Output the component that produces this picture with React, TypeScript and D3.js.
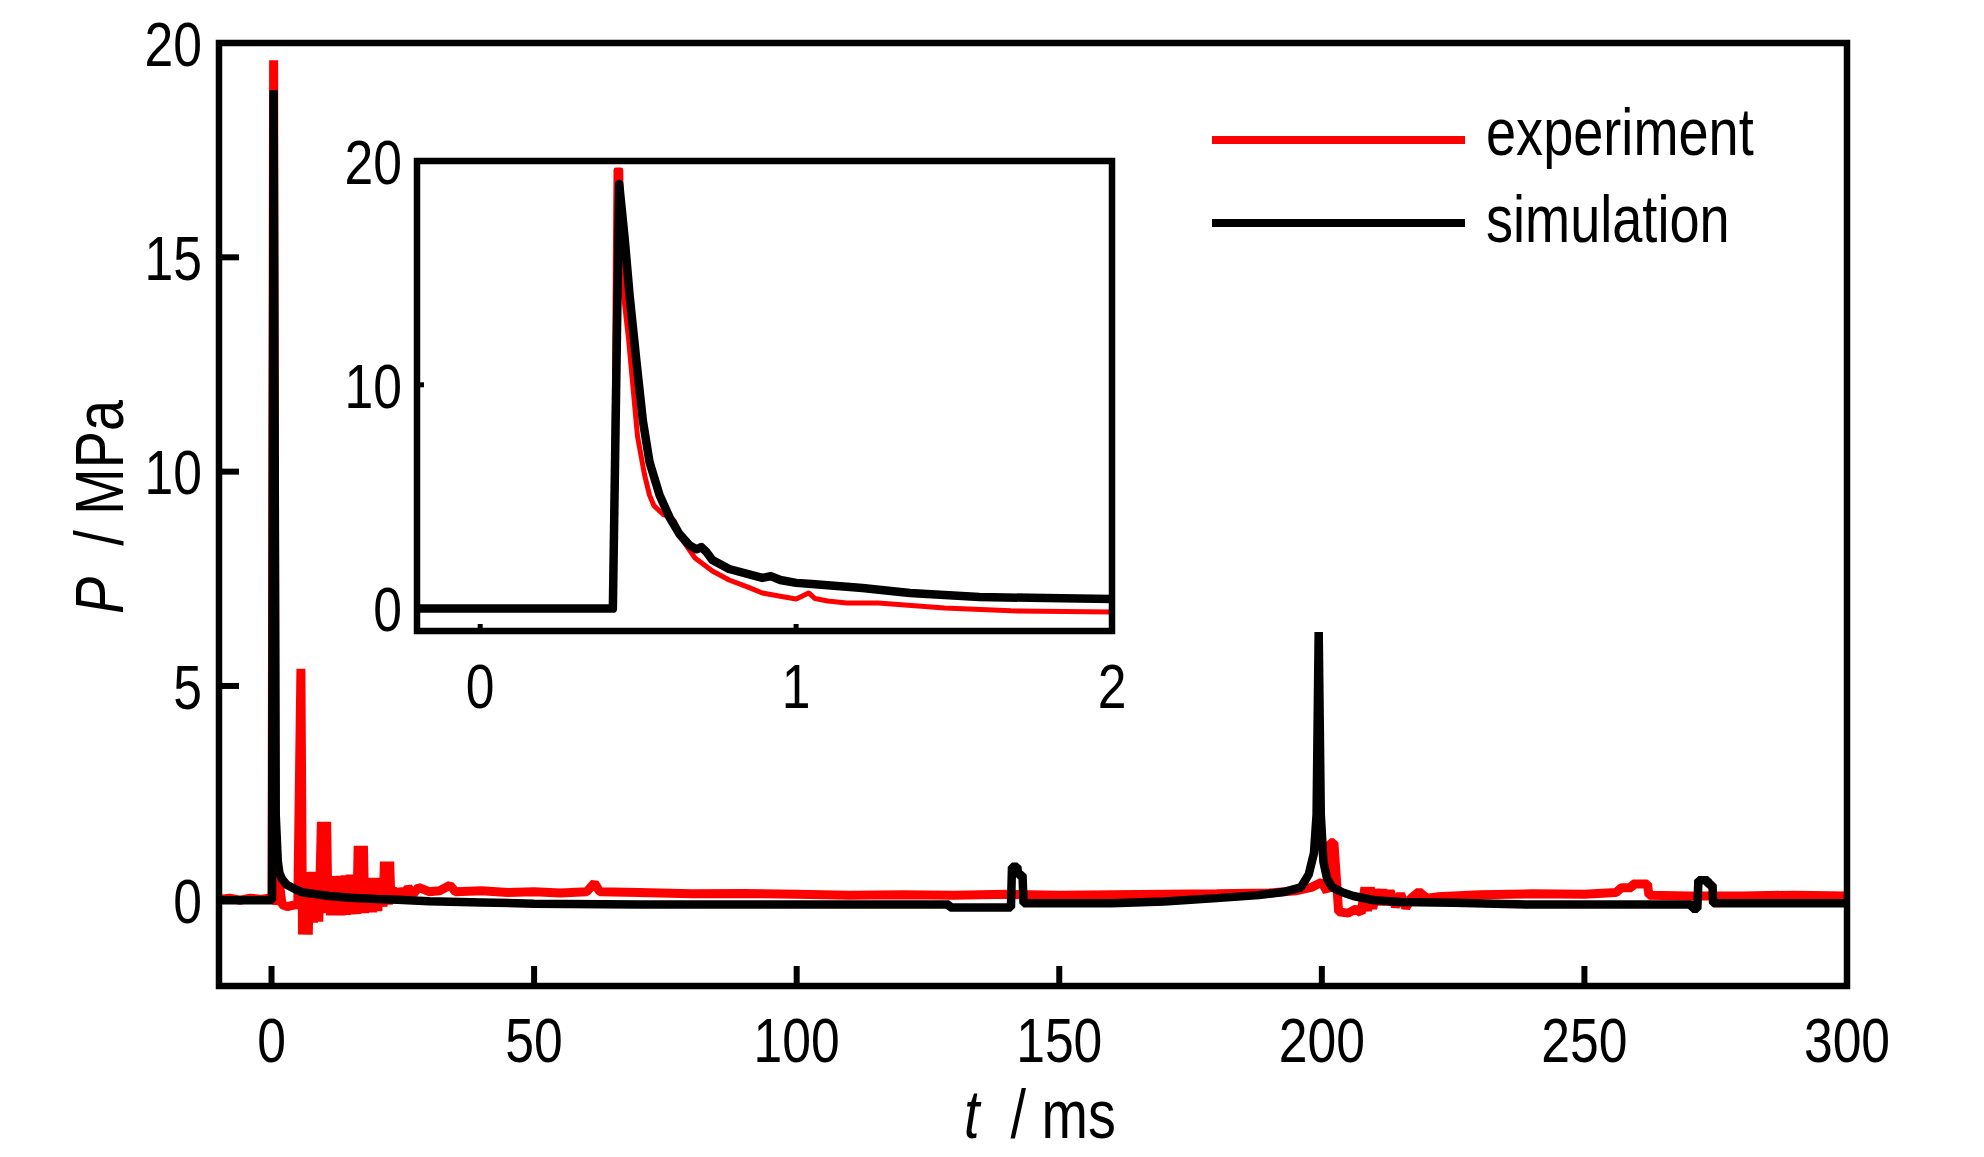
import * as d3 from "d3";

// main chart, t in ms, P in MPa
const mainExperiment: [number, number][] = [
  [-10, 0.02], [-8, 0.05], [-6, 0.0], [-4, 0.05], [-2, 0.02], [-0.5, 0.05], [0.1, 0.1],
  [0.4, 19.6], [0.7, 0.3], [1.0, -0.1], [1.5, 0.4], [2.0, -0.1], [3, -0.15], [4, -0.12], [5, -0.1],
  [5.6, 5.4], [5.9, -0.8], [6.2, -0.1], [6.5, -0.8], [6.8, -0.2], [7.0, -0.8], [7.25, 0.66], [7.5, -0.52],
  [7.75, 0.66], [8.0, -0.52], [8.25, 0.66], [8.5, -0.5], [8.75, 0.66], [9.0, -0.5], [9.25, 0.6],
  [9.5, 1.83], [9.75, -0.3], [10.0, 1.83], [10.25, -0.3], [10.5, 1.83], [10.75, -0.3], [11.0, 0.55],
  [11.25, -0.35], [11.5, 0.55], [11.75, -0.35], [12.0, 0.56], [12.25, -0.35], [12.5, 0.56], [12.75, -0.35],
  [13.0, 0.57], [13.25, -0.35], [13.5, 0.57], [13.75, -0.34], [14.0, 0.58], [14.25, -0.34], [14.5, 0.58],
  [14.75, -0.33], [15.0, 0.6], [15.25, -0.33], [15.5, 0.6], [15.75, -0.32], [16.0, 0.6], [16.25, -0.32],
  [16.5, 1.27], [16.75, -0.3], [17.0, 1.27], [17.25, -0.3], [17.5, 1.27], [17.75, -0.3], [18.0, 0.5],
  [18.25, -0.28], [18.5, 0.5], [18.75, -0.28], [19.0, 0.52], [19.25, -0.28], [19.5, 0.52], [19.75, -0.25],
  [20.0, 0.52], [20.25, -0.25], [20.5, 0.52], [20.75, -0.15], [21.0, 0.5], [21.25, -0.15], [21.5, 0.9],
  [21.75, -0.1], [22.0, 0.9], [22.25, -0.1], [22.5, 0.9], [22.75, -0.05], [23.0, 0.3], [23.25, -0.05],
  [23.5, 0.28], [23.75, 0.0], [24.0, 0.28], [24.25, 0.0], [24.5, 0.28], [25.0, 0.05], [26, 0.3],
  [27, 0.15], [28, 0.3], [30, 0.2], [32, 0.22], [34, 0.35], [35, 0.2], [40, 0.22], [45, 0.18],
  [50, 0.2], [55, 0.17], [60, 0.2], [61.5, 0.4], [62.5, 0.2], [70, 0.18], [80, 0.15], [90, 0.16],
  [100, 0.14], [110, 0.12], [120, 0.13], [130, 0.12], [140, 0.14], [150, 0.12], [160, 0.13],
  [170, 0.14], [180, 0.15], [190, 0.17], [195, 0.22], [198, 0.3], [200, 0.42], [201, 0.2],
  [201.6, 1.34], [202.3, 1.34], [203.2, -0.27], [205, -0.3], [206.5, -0.2], [207.5, -0.3],
  [208.2, 0.3], [208.7, -0.25], [209.2, 0.3], [209.7, -0.2], [210.3, 0.25], [211, -0.1], [211.6, 0.25],
  [212.2, -0.1], [213, 0.22], [214, -0.15], [215, 0.15], [216, -0.18], [217, 0.05], [218.5, 0.2],
  [220, 0.05], [222, 0.08], [225, 0.1], [230, 0.13], [240, 0.15], [250, 0.14], [256, 0.18],
  [257, 0.29], [259, 0.29], [259.2, 0.38], [262, 0.38], [262.3, 0.12], [270, 0.1], [280, 0.1],
  [290, 0.12], [300, 0.1],
];

const mainSimulation: [number, number][] = [
  [-10, 0], [-0.5, 0], [0.1, 0], [0.4, 18.9], [0.8, 2.0], [1.2, 0.9], [1.5, 0.64], [2, 0.5],
  [2.9, 0.36], [4.8, 0.24], [6, 0.18], [8, 0.15], [11, 0.1], [15, 0.06], [20, 0.03], [24, 0.01],
  [30, -0.02], [40, -0.05], [50, -0.08], [70, -0.1], [100, -0.1], [129, -0.1], [129.2, -0.17],
  [140.8, -0.17], [141, 0.78], [142, 0.78], [142.2, 0.59], [143, 0.59], [143.2, -0.07], [160, -0.07],
  [170, -0.03], [180, 0.05], [188, 0.12], [193, 0.2], [196, 0.3], [197.5, 0.6], [198.5, 1.1],
  [199.0, 2.0], [199.4, 6.26], [199.8, 2.0], [200.3, 0.9], [201, 0.5], [202, 0.3], [204, 0.18],
  [206, 0.1], [210, 0.0], [215, -0.04], [225, -0.06], [240, -0.1], [270.5, -0.1], [270.6, -0.2],
  [271.5, -0.2], [271.7, 0.47], [273.5, 0.47], [273.6, 0.36], [274.4, 0.36], [274.5, -0.07], [300, -0.07],
];

// inset, zoom on the first 2 ms
const insetExperiment: [number, number][] = [
  [-0.2, 0], [0.42, 0], [0.43, 19.6], [0.445, 19.6], [0.45, 14.5], [0.47, 12.0], [0.498, 7.7],
  [0.52, 6.0], [0.536, 5.07], [0.55, 4.6], [0.58, 4.2], [0.6, 4.1], [0.615, 3.9], [0.64, 3.07],
  [0.68, 2.26], [0.735, 1.68], [0.788, 1.28], [0.85, 0.95], [0.893, 0.7], [0.95, 0.55], [1.0, 0.43],
  [1.04, 0.7], [1.06, 0.45], [1.1, 0.34], [1.16, 0.25], [1.26, 0.25], [1.47, 0.03], [1.68, -0.1],
  [2.0, -0.15],
];

const insetSimulation: [number, number][] = [
  [-0.2, 0], [0.42, 0], [0.44, 18.97], [0.457, 16.6], [0.473, 14.0], [0.495, 11.0], [0.515, 8.4],
  [0.536, 6.55], [0.568, 5.07], [0.599, 4.09], [0.631, 3.33], [0.662, 2.84], [0.685, 2.65],
  [0.7, 2.75], [0.715, 2.55], [0.735, 2.17], [0.788, 1.77], [0.893, 1.37], [0.92, 1.45], [0.95, 1.28],
  [1.0, 1.15], [1.05, 1.1], [1.21, 0.92], [1.36, 0.7], [1.58, 0.52], [1.79, 0.47], [2.0, 0.43],
];

const mainXTicks = [0, 50, 100, 150, 200, 250, 300];
const mainYTicks = [0, 5, 10, 15, 20];
const insetXTicks = [0, 1, 2];
const insetYTicks = [0, 10, 20];
const seriesNames = ["experiment", "simulation"];

const FONT = "'Liberation Sans', Arial, sans-serif";
const NARROW = 0.82;

// narrow text: Arial squeezed horizontally like Arial Narrow
const NText = ({ x, y, size, anchor = "start", rotate = 0, dy, children }: any) => (
  <text
    transform={`translate(${x},${y}) rotate(${rotate}) scale(${NARROW},1)`}
    textAnchor={anchor}
    fontSize={size}
    dy={dy}
  >
    {children}
  </text>
);

const App = () => {
  const W = 1984, H = 1157;

  const x = d3.scaleLinear().domain([-10, 300]).range([219, 1847]);
  const y = d3.scaleLinear().domain([-2, 20]).range([986, 43]);
  const ix = d3.scaleLinear().domain([-0.2, 2]).range([417, 1112]);
  const iy = d3.scaleLinear().domain([-1, 20]).range([631, 161]);

  const mainLine = d3.line<[number, number]>().x(d => x(d[0])).y(d => y(d[1]));
  const insetLine = d3.line<[number, number]>().x(d => ix(d[0])).y(d => iy(d[1]));

  return (
    <svg width={W} height={H} style={{ position: "absolute", left: 0, top: 0, background: "#fff" }}
      fontFamily={FONT}>
      <defs>
        <clipPath id="mainClip">
          <rect x={219} y={43} width={1847 - 219} height={986 - 43} />
        </clipPath>
        <clipPath id="insetClip">
          <rect x={417} y={161} width={1112 - 417} height={631 - 161} />
        </clipPath>
      </defs>
      <rect width={W} height={H} fill="#fff" />

      {/* main plot */}
      <g clipPath="url(#mainClip)">
        <path d={mainLine(mainExperiment) ?? ""} fill="none" stroke="#ff0000" strokeWidth={9} strokeLinejoin="bevel" />
        <path d={mainLine(mainSimulation) ?? ""} fill="none" stroke="#000" strokeWidth={8.5} strokeLinejoin="bevel" />
      </g>
      {mainXTicks.map(t => (
        <g key={"mx" + t}>
          <line x1={x(t)} x2={x(t)} y1={986} y2={966} stroke="#000" strokeWidth={6} />
          <NText x={x(t)} y={1062} size={63} anchor="middle">{t}</NText>
        </g>
      ))}
      {mainYTicks.map(v => (
        <g key={"my" + v}>
          <line x1={219} x2={239} y1={y(v)} y2={y(v)} stroke="#000" strokeWidth={6} />
          <NText x={202} y={y(v)} dy="0.36em" size={63} anchor="end">{v}</NText>
        </g>
      ))}
      <rect x={219} y={43} width={1847 - 219} height={986 - 43} fill="none" stroke="#000" strokeWidth={6.5} />

      <NText x={1040} y={1138} size={68} anchor="middle">
        <tspan fontStyle="italic">t</tspan>
        <tspan>{"\u00a0\u00a0/ ms"}</tspan>
      </NText>
      <NText x={123} y={507} size={68} anchor="middle" rotate={-90}>
        <tspan fontStyle="italic">P</tspan>
        <tspan>{"\u00a0\u00a0/ MPa"}</tspan>
      </NText>

      {/* legend */}
      <line x1={1212} x2={1465} y1={140} y2={140} stroke="#ff0000" strokeWidth={8} />
      <line x1={1212} x2={1465} y1={223} y2={223} stroke="#000" strokeWidth={8} />
      <NText x={1486} y={155} size={66}>{seriesNames[0]}</NText>
      <NText x={1486} y={242} size={66}>{seriesNames[1]}</NText>

      {/* inset */}
      <rect x={417} y={161} width={1112 - 417} height={631 - 161} fill="#fff" />
      <g clipPath="url(#insetClip)">
        <path d={insetLine(insetExperiment) ?? ""} fill="none" stroke="#ff0000" strokeWidth={5} strokeLinejoin="round" />
        <path d={insetLine(insetSimulation) ?? ""} fill="none" stroke="#000" strokeWidth={8.5} strokeLinejoin="round" />
      </g>
      {insetXTicks.map(t => (
        <g key={"ix" + t}>
          <line x1={ix(t)} x2={ix(t)} y1={631} y2={624} stroke="#000" strokeWidth={5} />
          <NText x={ix(t)} y={708} size={63} anchor="middle">{t}</NText>
        </g>
      ))}
      {insetYTicks.map(v => (
        <g key={"iy" + v}>
          <line x1={417} x2={424} y1={iy(v)} y2={iy(v)} stroke="#000" strokeWidth={5} />
          <NText x={402} y={iy(v)} dy="0.36em" size={63} anchor="end">{v}</NText>
        </g>
      ))}
      <rect x={417} y={161} width={1112 - 417} height={631 - 161} fill="none" stroke="#000" strokeWidth={6.5} />
    </svg>
  );
};

export default App;
